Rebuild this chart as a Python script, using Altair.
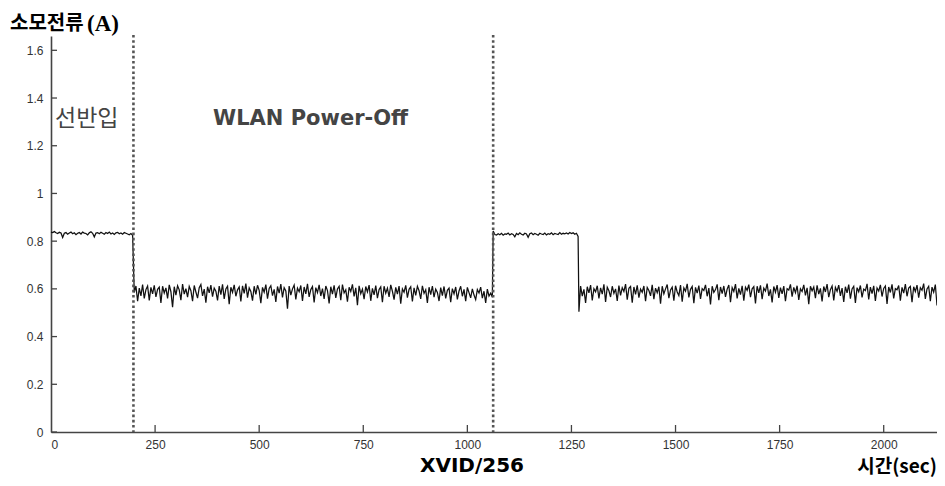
import altair as alt
import pandas as pd

# ---- data (current in A, sampled every 4 s) ----
seg1_start, seg1_step = 0, 4
seg1 = [0.838,0.836,0.840,0.835,0.832,0.837,0.834,0.815,0.833,0.836,
        0.829,0.834,0.838,0.831,0.835,0.827,0.833,0.836,0.830,0.838,
        0.834,0.832,0.826,0.835,0.839,0.833,0.818,0.834,0.836,0.831,
        0.837,0.833,0.829,0.836,0.832,0.838,0.830,0.834,0.828,0.835,
        0.837,0.831,0.834,0.829,0.836,0.833,0.830,0.827,0.832,0.825]

seg2_start, seg2_step = 200, 4
seg2 = [0.585,0.612,0.548,0.603,0.571,0.618,0.560,0.597,0.612,0.552,0.606,0.579,
        0.615,0.566,0.598,0.607,0.541,0.611,0.583,0.604,0.560,0.617,0.588,0.523,
        0.609,0.574,0.613,0.596,0.553,0.620,0.578,0.601,0.565,0.610,0.592,0.548,
        0.614,0.587,0.561,0.605,0.618,0.571,0.599,0.542,0.609,0.583,0.616,0.567,
        0.603,0.590,0.552,0.612,0.576,0.619,0.558,0.600,0.611,0.536,0.607,0.585,
        0.617,0.569,0.596,0.608,0.547,0.613,0.581,0.622,0.563,0.604,0.589,0.551,
        0.611,0.577,0.615,0.594,0.540,0.606,0.586,0.618,0.559,0.602,0.613,0.572,
        0.598,0.545,0.610,0.582,0.620,0.564,0.605,0.591,0.517,0.612,0.574,0.600,
        0.616,0.556,0.603,0.588,0.614,0.549,0.608,0.579,0.621,0.566,0.597,0.610,
        0.543,0.605,0.584,0.617,0.570,0.601,0.558,0.612,0.593,0.539,0.609,0.578,
        0.615,0.562,0.600,0.611,0.553,0.618,0.583,0.596,0.546,0.607,0.589,0.619,
        0.568,0.604,0.532,0.613,0.580,0.599,0.557,0.610,0.587,0.616,0.550,0.602,
        0.575,0.614,0.561,0.597,0.608,0.544,0.611,0.582,0.603,0.566,0.617,0.590,
        0.555,0.606,0.578,0.612,0.538,0.600,0.586,0.615,0.563,0.598,0.609,0.547,
        0.604,0.573,0.611,0.592,0.558,0.613,0.581,0.596,0.541,0.607,0.576,0.612,
        0.565,0.599,0.585,0.549,0.605,0.572,0.610,0.560,0.594,0.603,0.544,0.601,
        0.579,0.608,0.556,0.591,0.611,0.569,0.598,0.548,0.606,0.584,0.562,0.600,
        0.574,0.555,0.597,0.583,0.607,0.561,0.590,0.541,0.599,0.570,0.582,0.565]

seg3_start, seg3_step = 1062, 4
seg3 = [0.843,0.828,0.826,0.831,0.827,0.833,0.825,0.830,0.829,0.834,0.826,0.831,
        0.828,0.818,0.832,0.827,0.835,0.829,0.826,0.833,0.830,0.816,0.831,0.834,
        0.827,0.832,0.829,0.825,0.833,0.830,0.828,0.834,0.826,0.831,0.829,0.835,
        0.827,0.832,0.830,0.828,0.836,0.829,0.833,0.831,0.834,0.830,0.836,0.832,
        0.835,0.829,0.833,0.820]

seg4_start, seg4_step = 1268, 4
seg4 = [0.504,0.612,0.570,0.598,0.541,0.609,0.583,0.616,0.552,0.601,0.588,0.613,
        0.560,0.604,0.578,0.619,0.545,0.607,0.592,0.566,0.611,0.581,0.600,0.549,
        0.614,0.573,0.605,0.589,0.620,0.555,0.602,0.610,0.542,0.608,0.577,0.615,
        0.563,0.599,0.586,0.612,0.548,0.606,0.593,0.571,0.617,0.557,0.603,0.584,
        0.609,0.538,0.611,0.579,0.600,0.618,0.561,0.595,0.607,0.550,0.613,0.587,
        0.572,0.616,0.546,0.604,0.590,0.621,0.564,0.598,0.610,0.540,0.606,0.582,
        0.614,0.558,0.601,0.593,0.617,0.569,0.603,0.535,0.611,0.585,0.597,0.619,
        0.553,0.608,0.580,0.612,0.566,0.599,0.616,0.544,0.605,0.589,0.620,0.560,
        0.602,0.576,0.613,0.551,0.607,0.594,0.618,0.565,0.600,0.609,0.539,0.611,
        0.583,0.615,0.557,0.603,0.591,0.622,0.570,0.598,0.543,0.610,0.586,0.616,
        0.562,0.605,0.579,0.612,0.548,0.601,0.595,0.619,0.567,0.606,0.584,0.613,
        0.554,0.600,0.589,0.617,0.573,0.604,0.536,0.611,0.592,0.608,0.561,0.615,
        0.578,0.602,0.547,0.610,0.587,0.620,0.565,0.597,0.612,0.552,0.606,0.590,
        0.616,0.571,0.603,0.545,0.609,0.583,0.618,0.559,0.600,0.611,0.541,0.605,
        0.588,0.614,0.564,0.599,0.593,0.621,0.556,0.607,0.580,0.613,0.549,0.604,
        0.591,0.617,0.568,0.602,0.612,0.537,0.608,0.585,0.619,0.560,0.601,0.596,
        0.614,0.551,0.606,0.582,0.620,0.569,0.603,0.610,0.544,0.609,0.589,0.616,
        0.563,0.605,0.594,0.622,0.558,0.600,0.611,0.548,0.607,0.586,0.618,0.530]

markers = [198, 1062]
y_ticks = [0, 0.2, 0.4, 0.6, 0.8, 1.0, 1.2, 1.4, 1.6]
x_ticks = [0, 250, 500, 750, 1000, 1250, 1500, 1750, 2000]

rows = []
for start, step, vals in [(seg1_start, seg1_step, seg1), (seg2_start, seg2_step, seg2),
                          (seg3_start, seg3_step, seg3), (seg4_start, seg4_step, seg4)]:
    for i, v in enumerate(vals):
        rows.append({"t": start + i * step, "I": v})
df = pd.DataFrame(rows)

W, H = 886, 396
xs = alt.Scale(domain=[0, 2128], nice=False, zero=False)
ys = alt.Scale(domain=[0, 1.66], nice=False)

line = alt.Chart(df).mark_line(color="#111111", strokeWidth=1.25).encode(
    x=alt.X("t:Q", scale=xs,
            axis=alt.Axis(values=x_ticks, format="d", title=None, ticks=False, grid=False,
                          labelPadding=7)),
    y=alt.Y("I:Q", scale=ys,
            axis=alt.Axis(values=y_ticks, format="~g", title=None, ticks=False, grid=False,
                          labelPadding=8)),
)

vlines = alt.Chart(pd.DataFrame({"t": markers})).mark_rule(
    color="#555555", strokeWidth=2.6, strokeDash=[2.6, 2.6]
).encode(x=alt.X("t:Q", scale=xs), y=alt.value(-1), y2=alt.value(H))

ytick_rules = alt.Chart(pd.DataFrame({"v": y_ticks})).mark_rule(
    color="#444444", strokeWidth=1.3
).encode(y=alt.Y("v:Q", scale=ys), x=alt.value(0), x2=alt.value(6))

xtick_rules = alt.Chart(pd.DataFrame({"v": x_ticks[1:]})).mark_rule(
    color="#444444", strokeWidth=1.3
).encode(x=alt.X("v:Q", scale=xs), y=alt.value(H), y2=alt.value(H - 7))

one = alt.Data(values=[{}])

def label(text, x, y, size, font, weight, color, align="left", baseline="middle"):
    return alt.Chart(one).mark_text(
        text=text, font=font, fontSize=size, fontWeight=weight, color=color,
        align=align, baseline=baseline
    ).encode(x=alt.value(x), y=alt.value(y))

texts = [
    label("소모전류", -41, -12, 20, "Noto Sans CJK KR", "bold", "#000000"),
    label("(A)", 36, -12, 23, "Liberation Serif", "bold", "#000000"),
    label("선반입", 4, 83, 23, "Noto Sans CJK KR", "normal", "#444444"),
    label("WLAN Power-Off", 162, 83, 21, "DejaVu Sans", "bold", "#444444"),
    label("XVID/256", 369, 440, 20, "DejaVu Sans", "bold", "#000000", baseline="bottom"),
    label("시간(sec)", 886, 441, 19, "Noto Sans CJK KR", "bold", "#000000",
          align="right", baseline="bottom"),
]

chart = alt.layer(line, vlines, ytick_rules, xtick_rules, *texts).properties(
    width=W, height=H,
    autosize=alt.AutoSizeParams(type="none"),
    padding={"left": 43, "top": 28, "right": 0, "bottom": 46},
).configure_view(stroke=None).configure_axis(
    domainColor="#444444", domainWidth=1.6,
    labelFont="Liberation Sans", labelFontSize=12, labelColor="#333333",
)

chart.save("out.html", embed_options={"renderer": "svg", "actions": False})
